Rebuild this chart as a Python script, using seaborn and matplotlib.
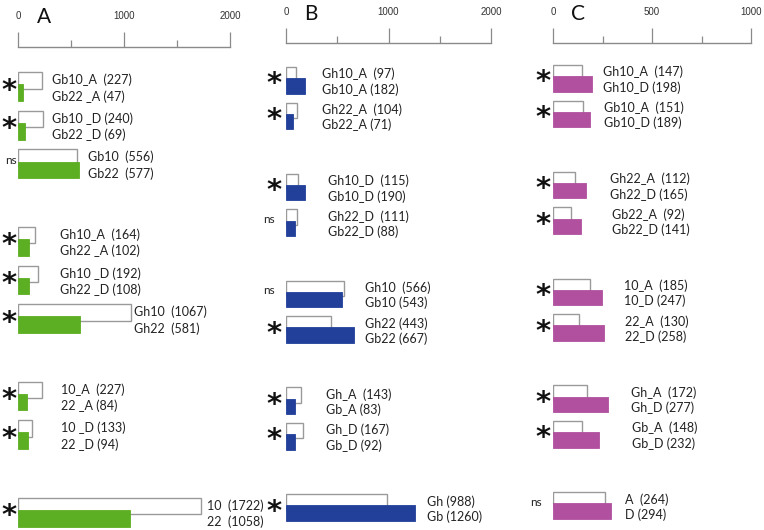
import matplotlib
matplotlib.use("Agg")
import matplotlib.pyplot as plt
import matplotlib.transforms as mtransforms
from matplotlib.ticker import MultipleLocator
import pandas as pd
import seaborn as sns

# ---- data ----
# panel A: 10 vs 22
a_top_names = ["Gb10_A ", "Gb10 _D", "Gb10 ", "Gh10_A ", "Gh10 _D", "Gh10 ", "10_A ", "10 _D", "10 "]
a_top_vals = [227, 240, 556, 164, 192, 1067, 227, 133, 1722]
a_bot_names = ["Gb22 _A", "Gb22 _D", "Gb22 ", "Gh22 _A", "Gh22 _D", "Gh22 ", "22 _A", "22 _D", "22 "]
a_bot_vals = [47, 69, 577, 102, 108, 581, 84, 94, 1058]
a_sig = ["*", "*", "ns", "*", "*", "*", "*", "*", "*"]

# panel B: Gh vs Gb
b_top_names = ["Gh10_A ", "Gh22_A ", "Gh10_D ", "Gh22_D ", "Gh10 ", "Gh22", "Gh_A ", "Gh_D", "Gh"]
b_top_vals = [97, 104, 115, 111, 566, 443, 143, 167, 988]
b_bot_names = ["Gb10_A", "Gb22_A", "Gb10_D", "Gb22_D", "Gb10", "Gb22", "Gb_A", "Gb_D", "Gb"]
b_bot_vals = [182, 71, 190, 88, 543, 667, 83, 92, 1260]
b_sig = ["*", "*", "*", "ns", "ns", "*", "*", "*", "*"]

# panel C: A vs D
c_top_names = ["Gh10_A ", "Gb10_A ", "Gh22_A ", "Gb22_A ", "10_A ", "22_A ", "Gh_A ", "Gb_A ", "A "]
c_top_vals = [147, 151, 112, 92, 185, 130, 172, 148, 264]
c_bot_names = ["Gh10_D", "Gb10_D", "Gh22_D", "Gb22_D", "10_D", "22_D", "Gh_D", "Gb_D", "D"]
c_bot_vals = [198, 189, 165, 141, 247, 258, 277, 232, 294]
c_sig = ["*", "*", "*", "*", "*", "*", "*", "*", "ns"]

# ---- layout ----
W, H = 764, 530
panels = [
    dict(letter="A", top_names=a_top_names, top_vals=a_top_vals, bot_names=a_bot_names,
         bot_vals=a_bot_vals, sig=a_sig, color="#5cae22",
         slots=[0, 1, 2, 4, 5, 6, 8, 9, 11],
         label_x=[320, 320, 660, 396, 396, 1094, 405, 405, 1782],
         px=(18, 230, 47), first=72, step=38.7, xmax=2000, major=1000,
         letter_xy=(44, 17), sig_x=9, ns_x=11),
    dict(letter="B", top_names=b_top_names, top_vals=b_top_vals, bot_names=b_bot_names,
         bot_vals=b_bot_vals, sig=b_sig, color="#22409a",
         slots=[0, 1, 3, 4, 6, 7, 9, 10, 12],
         label_x=[351, 351, 410, 410, 771, 771, 390, 390, 1376],
         px=(286, 491, 43), first=67, step=35.6, xmax=2000, major=1000,
         letter_xy=(311, 14), sig_x=274, ns_x=269),
    dict(letter="C", top_names=c_top_names, top_vals=c_top_vals, bot_names=c_bot_names,
         bot_vals=c_bot_vals, sig=c_sig, color="#b0509f",
         slots=[0, 1, 3, 4, 6, 7, 9, 10, 12],
         label_x=[252, 258, 288, 298, 359, 364, 394, 399, 364],
         px=(553, 751, 43), first=65, step=35.6, xmax=1000, major=500,
         letter_xy=(578, 14), sig_x=543, ns_x=536),
]

sns.set_style("white")
plt.rcParams["font.family"] = ["Lato", "DejaVu Sans"]

fig = plt.figure(figsize=(W / 100, H / 100), dpi=100)

for p in panels:
    left, right, top = p["px"]
    ax = fig.add_axes([left / W, 0, (right - left) / W, (H - top) / H])
    ax.patch.set_alpha(0)

    slots = p["slots"]
    white = pd.DataFrame({"value": p["top_vals"], "pos": [s + 0.215 for s in slots]})
    filled = pd.DataFrame({"value": p["bot_vals"], "pos": [s + 0.53 for s in slots]})
    sns.barplot(data=white, x="value", y="pos", orient="h", native_scale=True,
                width=0.43, color="white", edgecolor="#9a9a9a", linewidth=1,
                errorbar=None, ax=ax)
    sns.barplot(data=filled, x="value", y="pos", orient="h", native_scale=True,
                width=0.43, color=p["color"], saturation=1, edgecolor=p["color"],
                linewidth=0.6, errorbar=None, ax=ax)

    ax.set_xlim(0, p["xmax"])
    ax.set_ylim((H - p["first"]) / p["step"], -(p["first"] - top) / p["step"])

    # top scale
    for s in ["right", "bottom", "left"]:
        ax.spines[s].set_visible(False)
    ax.spines["top"].set_color("#8a8a8a")
    ax.spines["top"].set_linewidth(1)
    ax.xaxis.set_ticks_position("top")
    ax.xaxis.set_major_locator(MultipleLocator(p["major"]))
    ax.xaxis.set_minor_locator(MultipleLocator(p["major"] / 2))
    ax.tick_params(axis="x", which="major", direction="out", length=10.5, width=0.9,
                   color="#8a8a8a", pad=8, labelsize=7, labelcolor="#333333",
                   labelfontfamily="Liberation Sans")
    ax.tick_params(axis="x", which="minor", direction="out", length=5, width=0.9,
                   color="#8a8a8a")
    ax.set_yticks([])
    ax.set_xlabel("")
    ax.set_ylabel("")

    # labels
    for s, lx, tn, tv, bn, bv in zip(slots, p["label_x"], p["top_names"], p["top_vals"],
                                     p["bot_names"], p["bot_vals"]):
        ax.text(lx, s + 0.2, f"{tn} ({tv})", fontsize=9, va="center", ha="left",
                color="#222222", clip_on=False)
        ax.text(lx, s + 0.63, f"{bn} ({bv})", fontsize=9, va="center", ha="left",
                color="#222222", clip_on=False)

    # significance marks
    trans = mtransforms.blended_transform_factory(fig.transFigure, ax.transData)
    for s, mark in zip(slots, p["sig"]):
        if mark == "*":
            ax.text(p["sig_x"] / W, s + 0.43, r"$\mathbf{*}$", fontsize=21,
                    ha="center", va="center", transform=trans,
                    color="#111111", clip_on=False)
        else:
            ax.text(p["ns_x"] / W, s + 0.28, "ns", fontsize=8.5, ha="center", va="center",
                    transform=trans, color="#222222", clip_on=False)

    lx, ly = p["letter_xy"]
    fig.text(lx / W, 1 - ly / H, p["letter"], fontsize=15, ha="center", va="center",
             color="#111111")

fig.savefig("out.png", dpi=100)
